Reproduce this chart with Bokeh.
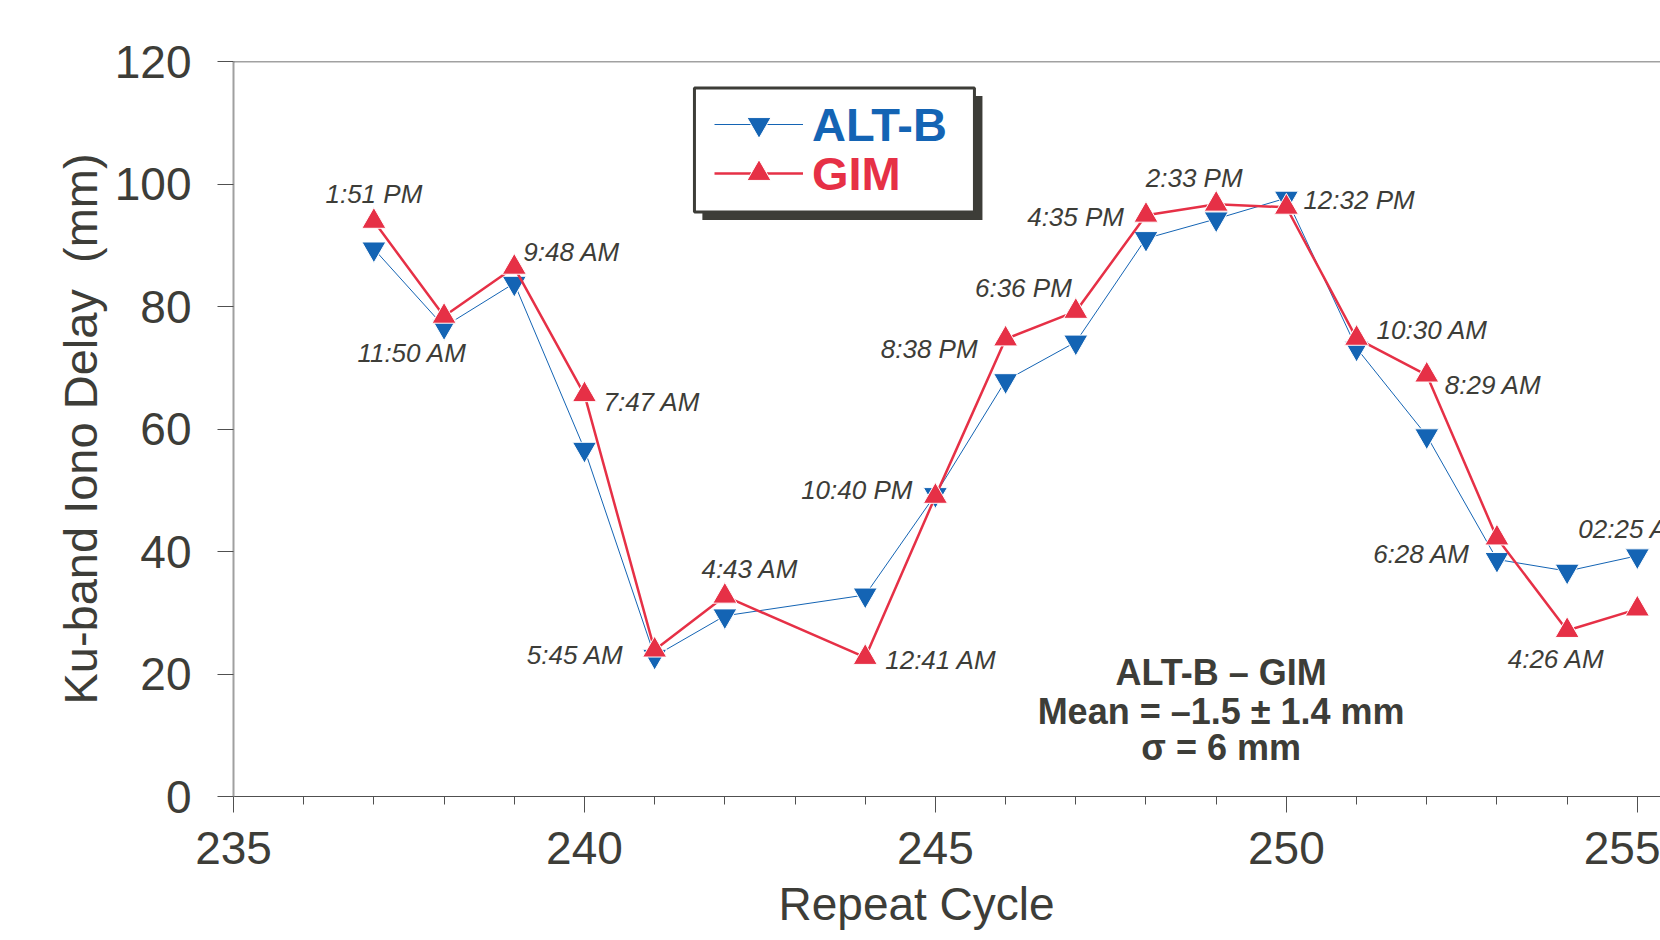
from bokeh.plotting import figure
from bokeh.models import (Range1d, FixedTicker, Span, Label, Legend, LegendItem,
                          BoxAnnotation, ColumnDataSource, Title)
from bokeh.core.properties import value
from bokeh.embed import file_html
from bokeh.resources import INLINE

# ---------------- data ----------------
cycles = [237, 238, 239, 240, 241, 242, 244, 245, 246, 247, 248, 249, 250, 251, 252, 253, 254, 255]
alt_b = [89.4, 76.7, 83.8, 56.7, 22.9, 29.5, 32.9, 49.3, 67.9, 74.2, 91.1, 94.3, 97.7, 73.2, 58.9, 38.7, 36.8, 39.3]
gim = [93.9, 78.4, 86.4, 65.6, 23.9, 32.7, 22.7, 49.0, 74.7, 79.2, 94.9, 96.7, 96.2, 74.8, 68.8, 42.2, 27.1, 30.6]
pass_times = ["1:51 PM", "11:50 AM", "9:48 AM", "7:47 AM", "5:45 AM", "4:43 AM", "12:41 AM",
              "10:40 PM", "8:38 PM", "6:36 PM", "4:35 PM", "2:33 PM", "12:32 PM", "10:30 AM",
              "8:29 AM", "6:28 AM", "4:26 AM", "02:25 AM"]
x_ticks = [235, 240, 245, 250, 255]
x_minor = list(range(235, 256))
y_ticks = [0, 20, 40, 60, 80, 100, 120]
series_names = ["ALT-B", "GIM"]
stats_lines = ["ALT-B \u2013 GIM", "Mean = \u20131.5 \u00b1 1.4 mm", "\u03c3 = 6 mm"]
x_title = "Repeat Cycle"
y_title = "Ku-band Iono Delay\u00a0 (mm)"

# ---------------- label placement (style) ----------------
lab_align = ["center", "center", "left", "left", "right", "center", "left", "right", "right",
             "right", "right", "center", "left", "left", "left", "right", "center", "left"]
lab_dx = [0, -32, 9, 19, -31, 25, 20, -23, -28, -4, -22, -22, 17, 20, 18, -27, -11, -59]
lab_dy = [-27, 37, -15, 7, 5, -27, 3, -6, 10, -23, 2, -26, -7, -8, 10, 16, 28, -80]

BLUE = "#1464b4"
RED = "#e63046"
DARK = "#3d3d38"
FONT = "Liberation Sans"

p = figure(width=1660, height=940, x_range=Range1d(235, 255.33), y_range=Range1d(0, 120),
           output_backend="svg", toolbar_location=None,
           min_border_left=233, min_border_right=0, min_border_top=61, min_border_bottom=144)
p.outline_line_color = None
p.grid.visible = False
p.background_fill_color = "white"
p.border_fill_color = "white"

# axes
p.xaxis.ticker = FixedTicker(ticks=x_ticks, minor_ticks=x_minor)
p.yaxis.ticker = FixedTicker(ticks=y_ticks)
for ax in (p.xaxis, p.yaxis):
    ax.major_label_text_font = FONT
    ax.major_label_text_font_size = "46px"
    ax.major_label_text_color = DARK
    ax.major_tick_line_color = "#505050"
    ax.minor_tick_line_color = "#505050"
    ax.major_tick_in = 0
    ax.major_tick_out = 16
    ax.minor_tick_in = 0
    ax.minor_tick_out = 8
p.xaxis.axis_line_color = "#505050"
p.xaxis.major_label_standoff = 19
p.yaxis.axis_line_color = "#a0a0a0"
p.yaxis.axis_line_width = 2
p.yaxis.minor_tick_line_color = None
p.yaxis.major_label_standoff = 26
p.yaxis.axis_label = y_title
p.yaxis.axis_label_text_font = FONT
p.yaxis.axis_label_text_font_size = "47px"
p.yaxis.axis_label_text_font_style = "normal"
p.yaxis.axis_label_text_color = DARK
p.yaxis.axis_label_standoff = 5

# x-axis title below the tick labels
p.add_layout(Title(text=x_title, align="left", offset=545, standoff=19,
                   text_font=FONT, text_font_size="46px", text_font_style="normal",
                   text_color=DARK), "below")

# top frame line
p.add_layout(Span(location=120, dimension="width", line_color="#444444", line_width=1.5))

# series
src = ColumnDataSource(dict(x=cycles, a=alt_b, g=gim, t=pass_times,
                            al=lab_align, dx=lab_dx, dy=lab_dy))
bl = p.line("x", "a", source=src, line_color=BLUE, line_width=1)
bm = p.scatter("x", "a", source=src, marker="inverted_triangle", size=24,
               fill_color=BLUE, line_color="white", line_width=1)
rl = p.line("x", "g", source=src, line_color=RED, line_width=2.5)
rm = p.scatter("x", "g", source=src, marker="triangle", size=24,
               fill_color=RED, line_color="white", line_width=1)

# time labels
p.text("x", "g", text="t", source=src, x_offset="dx", y_offset="dy", text_align="al",
       text_baseline="middle", text_font=value(FONT), text_font_style="italic",
       text_font_size="26px", text_color=DARK)

# stats box text
for line, yv in zip(stats_lines, [20.2, 13.9, 8.0]):
    p.add_layout(Label(x=249.07, y=yv, text=line, text_align="center", text_baseline="middle",
                       text_font=FONT, text_font_size="36px", text_font_style="bold",
                       text_color=DARK))

# legend frame with shadow
p.add_layout(BoxAnnotation(left=241.68, right=245.67, top=114.38, bottom=94.12,
                           fill_color=DARK, fill_alpha=1, line_color=None))
p.add_layout(BoxAnnotation(left=241.567, right=245.556, top=115.69, bottom=95.42,
                           fill_color="white", fill_alpha=1, line_color=DARK,
                           line_alpha=1, line_width=3))

def make_legend(name, rends, color, loc):
    lg = Legend(items=[LegendItem(label=name, renderers=rends)], location=loc,
                orientation="vertical", glyph_width=89, glyph_height=60,
                label_standoff=9, padding=0, spacing=0, margin=0,
                border_line_color=None, background_fill_alpha=0,
                label_text_font=FONT, label_text_font_size="47px",
                label_text_font_style="bold", label_text_color=color)
    p.add_layout(lg)

make_legend(series_names[0], [bl, bm], BLUE, (481, 642))
make_legend(series_names[1], [rl, rm], RED, (481, 593))

open("out.html", "w").write(file_html(p, INLINE))
